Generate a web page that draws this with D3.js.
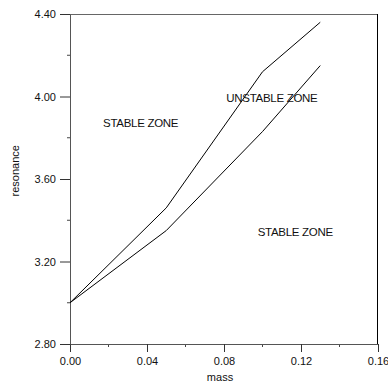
<!DOCTYPE html>
<html>
<head>
<meta charset="utf-8">
<script src="https://cdn.jsdelivr.net/npm/d3@7"></script>
<style>
  body { margin: 0; background: #fff; }
  svg text { font-family: "Liberation Sans", Arial, sans-serif; }
</style>
</head>
<body>
<div id="plot"></div>
<script>
  const w = 388;
  const h = 385;
  const margin = {top: 14, right: 10, bottom: 41, left: 70};
  const innerWidth = w - margin.left - margin.right;
  const innerHeight = h - margin.top - margin.bottom;

  // data
  const mass = [0.00, 0.05, 0.10, 0.13];
  const upperCurve = [3.00, 3.46, 4.12, 4.36];
  const lowerCurve = [3.00, 3.35, 3.83, 4.15];
  const xTicks = [0.00, 0.04, 0.08, 0.12, 0.16];
  const yTicks = [2.80, 3.20, 3.60, 4.00, 4.40];
  const zoneLabels = ["STABLE ZONE", "UNSTABLE ZONE", "STABLE ZONE"];
  const zoneAt = [[0.0172, 3.871], [0.0812, 3.993], [0.0975, 3.343]];

  const svg = d3.select("div#plot")
      .append("svg")
      .attr("width", w)
      .attr("height", h);

  const xScale = d3.scaleLinear()
      .domain([0, 0.16])
      .range([0, innerWidth]);

  const yScale = d3.scaleLinear()
      .domain([2.8, 4.4])
      .range([innerHeight, 0]);

  const g = svg.append("g")
      .attr("transform", `translate(${margin.left}, ${margin.top})`);

  // frame: top and right
  g.append("line")
      .attr("x1", 0).attr("x2", innerWidth)
      .attr("y1", 0.5).attr("y2", 0.5)
      .attr("stroke", "#666");
  g.append("line")
      .attr("x1", innerWidth - 0.5).attr("x2", innerWidth - 0.5)
      .attr("y1", 0).attr("y2", innerHeight)
      .attr("stroke", "#000");

  const xAxis = d3.axisBottom(xScale)
      .tickValues(xTicks)
      .tickFormat(d3.format(".2f"))
      .tickSize(8)
      .tickPadding(5)
      .tickSizeOuter(0);

  const yAxis = d3.axisLeft(yScale)
      .tickValues(yTicks)
      .tickFormat(d3.format(".2f"))
      .tickSize(10)
      .tickPadding(4)
      .tickSizeOuter(0);

  // minor ticks
  const xMinor = d3.range(0.02, 0.16, 0.04);
  g.selectAll(".xminor")
    .data(xMinor)
    .enter().append("line")
      .attr("x1", d => xScale(d)).attr("x2", d => xScale(d))
      .attr("y1", innerHeight).attr("y2", innerHeight + 3)
      .attr("stroke", "#444");

  const yMinor = d3.range(3.0, 4.4, 0.4);
  g.selectAll(".yminor")
    .data(yMinor)
    .enter().append("line")
      .attr("x1", -3).attr("x2", 0)
      .attr("y1", d => yScale(d)).attr("y2", d => yScale(d))
      .attr("stroke", "#444");

  const gx = g.append("g")
      .attr("transform", `translate(0, ${innerHeight})`)
      .call(xAxis);

  const gy = g.append("g")
      .call(yAxis);

  [gx, gy].forEach(a => {
    a.select(".domain").attr("stroke", "#555");
    a.selectAll(".tick line").attr("stroke", "#333");
    a.selectAll(".tick text")
        .attr("font-size", 11)
        .attr("font-family", "Liberation Sans, Arial, sans-serif")
        .attr("fill", "#111");
  });

  // axis titles
  svg.append("text")
      .attr("x", margin.left + xScale(0.08) - 4)
      .attr("y", 381)
      .attr("text-anchor", "middle")
      .attr("font-size", 11)
      .attr("fill", "#111")
      .text("mass");

  svg.append("text")
      .attr("transform", `translate(19, ${margin.top + yScale(3.64)}) rotate(-90)`)
      .attr("text-anchor", "middle")
      .attr("font-size", 11)
      .attr("fill", "#111")
      .text("resonance");

  // curves
  const line = d3.line()
      .x(d => xScale(d[0]))
      .y(d => yScale(d[1]));

  [upperCurve, lowerCurve].forEach(c => {
    g.append("path")
        .datum(mass.map((m, i) => [m, c[i]]))
        .attr("d", line)
        .attr("fill", "none")
        .attr("stroke", "#000")
        .attr("stroke-width", 1);
  });

  // zone labels
  g.selectAll(".zone")
    .data(zoneLabels)
    .enter().append("text")
      .attr("x", (d, i) => xScale(zoneAt[i][0]))
      .attr("y", (d, i) => yScale(zoneAt[i][1]))
      .attr("dy", "0.35em")
      .attr("font-size", 11.5)
      .attr("letter-spacing", -0.3)
      .attr("fill", "#111")
      .text(d => d);
</script>
</body>
</html>
